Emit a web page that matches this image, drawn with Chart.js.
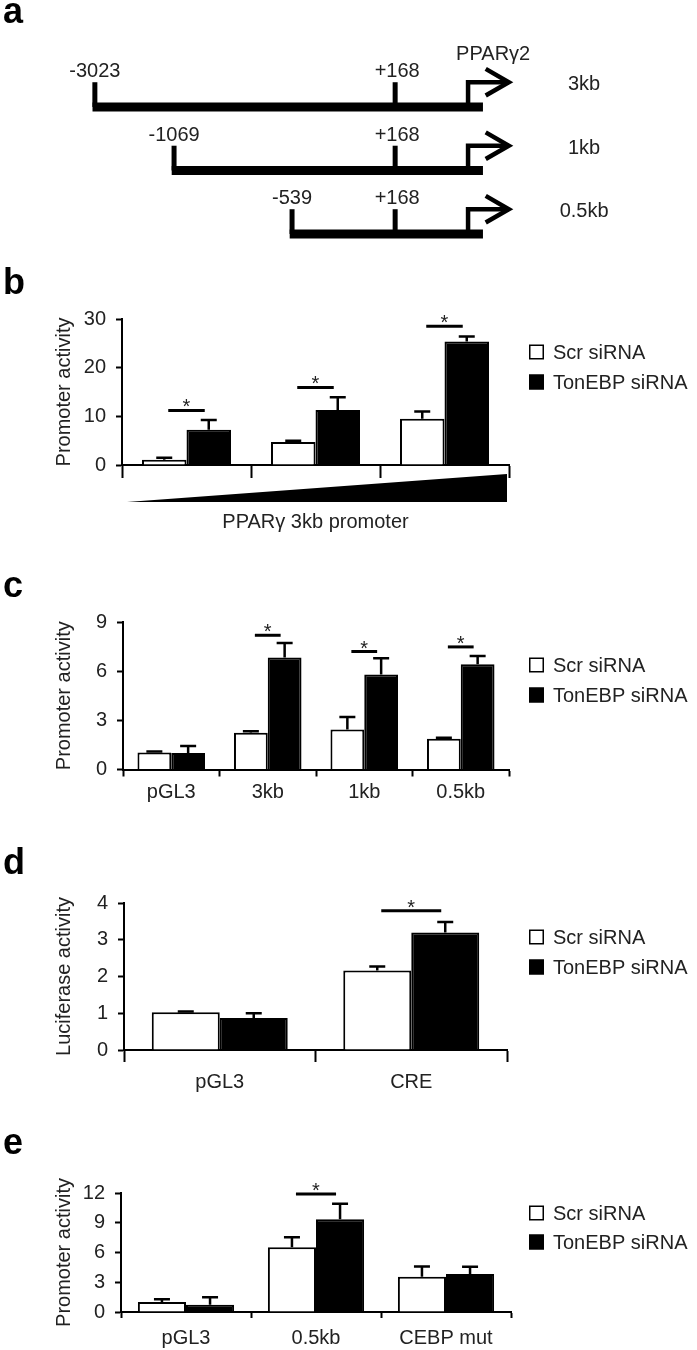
<!DOCTYPE html>
<html>
<head>
<meta charset="utf-8">
<script src="https://cdn.jsdelivr.net/npm/chart.js@4.4.0/dist/chart.umd.min.js"></script>
<style>
body { margin: 0; background: #fff; }
#page { position: relative; width: 697px; height: 1350px; overflow: hidden; }
.panel { position: absolute; left: 0; }
.letter { position: absolute; left: 3px; font: bold 36px 'Liberation Sans', Arial, sans-serif; line-height: 36px; color: #000; }
</style>
</head>
<body>
<div id="page">
  <div class="panel" style="top:0px"><canvas id="chartA" width="697" height="260"></canvas></div>
  <div class="panel" style="top:290px"><canvas id="chartB" width="697" height="250"></canvas></div>
  <div class="panel" style="top:600px"><canvas id="chartC" width="697" height="210"></canvas></div>
  <div class="panel" style="top:880px"><canvas id="chartD" width="697" height="220"></canvas></div>
  <div class="panel" style="top:1170px"><canvas id="chartE" width="697" height="180"></canvas></div>
  <div class="letter" style="top:-7px">a</div>
  <div class="letter" style="top:264px">b</div>
  <div class="letter" style="top:567px">c</div>
  <div class="letter" style="top:844px">d</div>
  <div class="letter" style="top:1124px">e</div>
</div>
<script>
// panel a - promoter constructs (schematic units, not to scale)
var constructNames = ['3kb', '1kb', '0.5kb']
var startLabels = ['-3023', '-1069', '-539']
var startPos = [1, 21.2, 51.3]
var siteLabel = '+168'
var sitePos = 77.6
var tssPos = 96.2
var endPos = 100
var geneLabel = 'PPARγ2'

var seriesNames = ['Scr siRNA', 'TonEBP siRNA']

// panel b
var bLabels = ['1', '2', '3']
var bScr = [1.1, 4.75, 9.5]
var bScrErr = [0.4, 0.25, 1.5]
var bTon = [7.26, 11.3, 25.4]
var bTonErr = [2.0, 2.6, 1.0]
var bSig = [11.2, 15.95, 28.5]

// panel c
var cLabels = ['pGL3', '3kb', '1kb', '0.5kb']
var cScr = [1.04, 2.24, 2.44, 1.87]
var cScrErr = [0.06, 0.1, 0.77, 0.06]
var cTon = [1.0, 6.83, 5.79, 6.42]
var cTonErr = [0.44, 0.89, 1.0, 0.51]
var cSig = [null, 8.19, 7.2, 7.48]

// panel d
var dLabels = ['pGL3', 'CRE']
var dScr = [1.03, 2.16]
var dScrErr = [0.02, 0.11]
var dTon = [0.87, 3.2]
var dTonErr = [0.13, 0.28]
var dSig = [null, 3.79]

// panel e
var eLabels = ['pGL3', '0.5kb', 'CEBP mut']
var eScr = [1.01, 6.52, 3.55]
var eScrErr = [0.27, 1.02, 1.05]
var eTon = [0.74, 9.36, 3.82]
var eTonErr = [0.75, 1.56, 0.74]
var eSig = [null, 11.9, null]

var FONT = "'Liberation Sans', Arial, sans-serif"
var TXT = '#222'
Chart.defaults.font.family = FONT
Chart.defaults.color = TXT

function seg(points, width) {
    return { data: points, showLine: true, borderColor: '#000', borderWidth: width,
             pointRadius: 0, fill: false, borderCapStyle: 'butt', borderJoinStyle: 'miter' }
}

var armH = 0.39   // tick / arrow height in row units
var tipX = 106.6
var aDatasets = []
for (var r = 0; r < constructNames.length; r++) {
    aDatasets.push(seg([{x: startPos[r] - 0.6, y: r}, {x: endPos, y: r}], 9))
    aDatasets.push(seg([{x: startPos[r], y: r}, {x: startPos[r], y: r - armH}], 5))
    aDatasets.push(seg([{x: sitePos, y: r}, {x: sitePos, y: r - armH}], 5))
    aDatasets.push(seg([{x: tssPos, y: r}, {x: tssPos, y: r - armH}, {x: tipX, y: r - armH}], 4.5))
    aDatasets.push(seg([{x: tipX - 5.9, y: r - armH - 0.21}, {x: tipX, y: r - armH}, {x: tipX - 5.9, y: r - armH + 0.21}], 4.5))
}

var schemeText = {
    id: 'schemeText',
    afterDraw: function(chart) {
        var ctx = chart.ctx, xs = chart.scales.x, ys = chart.scales.y
        ctx.save()
        ctx.fillStyle = TXT
        ctx.font = '20px ' + FONT
        ctx.textAlign = 'center'
        for (var r = 0; r < constructNames.length; r++) {
            var top = ys.getPixelForValue(r - armH)
            ctx.textBaseline = 'alphabetic'
            ctx.fillText(startLabels[r], xs.getPixelForValue(startPos[r]), top - 5)
            ctx.fillText(siteLabel, xs.getPixelForValue(sitePos) + 2, top - 5)
            ctx.textBaseline = 'middle'
            ctx.fillText(constructNames[r], xs.getPixelForValue(125.8), ys.getPixelForValue(r) - 22)
        }
        ctx.fillText(geneLabel, xs.getPixelForValue(102.6), ys.getPixelForValue(0) - 52)
        ctx.restore()
    }
}

new Chart(document.getElementById('chartA').getContext('2d'), {
    type: 'scatter',
    data: { datasets: aDatasets },
    options: {
        responsive: false, animation: false,
        layout: { padding: 0 },
        plugins: { legend: { display: false }, tooltip: { enabled: false } },
        scales: {
            x: { type: 'linear', display: false, min: -23.2, max: 154.6 },
            y: { type: 'linear', display: false, min: -1.685, max: 2.41, reverse: true }
        }
    },
    plugins: [schemeText]
})

var errorBars = {
    id: 'errorBars',
    afterDatasetsDraw: function(chart) {
        var ctx = chart.ctx, ys = chart.scales.y
        ctx.save()
        ctx.strokeStyle = '#000'
        ctx.lineWidth = 2.5
        chart.data.datasets.forEach(function(ds, di) {
            chart.getDatasetMeta(di).data.forEach(function(bar, i) {
                var top = ys.getPixelForValue(ds.data[i] + ds.err[i])
                ctx.beginPath()
                ctx.moveTo(bar.x, bar.y)
                ctx.lineTo(bar.x, top)
                ctx.moveTo(bar.x - 8, top)
                ctx.lineTo(bar.x + 8, top)
                ctx.stroke()
            })
        })
        ctx.restore()
    }
}

var sigMarks = {
    id: 'sigMarks',
    afterDatasetsDraw: function(chart, args, opts) {
        var ctx = chart.ctx, ys = chart.scales.y
        var m0 = chart.getDatasetMeta(0), m1 = chart.getDatasetMeta(1)
        ctx.save()
        ctx.strokeStyle = '#000'
        ctx.fillStyle = TXT
        ctx.lineWidth = 3
        ctx.font = '20px ' + FONT
        ctx.textAlign = 'center'
        ctx.textBaseline = 'alphabetic'
        opts.sig.forEach(function(v, i) {
            if (v == null) return
            var x1 = m0.data[i].x + 4, x2 = m1.data[i].x - 4, y = ys.getPixelForValue(v)
            ctx.beginPath()
            ctx.moveTo(x1, y)
            ctx.lineTo(x2, y)
            ctx.stroke()
            ctx.fillText('*', (x1 + x2) / 2, y + 3)
        })
        ctx.restore()
    }
}

var sideLegend = {
    id: 'sideLegend',
    afterDraw: function(chart, args, opts) {
        var ctx = chart.ctx
        ctx.save()
        ctx.font = '20px ' + FONT
        ctx.textBaseline = 'middle'
        chart.data.datasets.forEach(function(ds, i) {
            var y = opts.y[i]
            ctx.fillStyle = ds.backgroundColor
            ctx.fillRect(529, y - 7.5, 15, 15)
            ctx.strokeStyle = '#000'
            ctx.lineWidth = 1.5
            ctx.strokeRect(529.75, y - 6.75, 13.5, 13.5)
            ctx.fillStyle = TXT
            ctx.fillText(ds.label, 553, y + 1)
        })
        ctx.restore()
    }
}

var ramp = {
    id: 'ramp',
    afterDraw: function(chart, args, opts) {
        if (!opts.show) return
        var ctx = chart.ctx, xs = chart.scales.x, b = chart.chartArea.bottom
        ctx.save()
        ctx.fillStyle = '#000'
        ctx.beginPath()
        ctx.moveTo(xs.left + 5, b + 37)
        ctx.lineTo(xs.right - 2, b + 9)
        ctx.lineTo(xs.right - 2, b + 37)
        ctx.closePath()
        ctx.fill()
        ctx.restore()
    }
}

function barChart(id, labels, scr, scrErr, ton, tonErr, sig, o) {
    var ctx = document.getElementById(id).getContext('2d')
    return new Chart(ctx, {
        type: 'bar',
        data: {
            labels: labels,
            datasets: [
                { label: seriesNames[0], data: scr, err: scrErr, backgroundColor: '#fff', borderColor: '#000', borderWidth: 2 },
                { label: seriesNames[1], data: ton, err: tonErr, backgroundColor: '#000', borderColor: '#000', borderWidth: 2 }
            ]
        },
        options: {
            responsive: false, animation: false,
            layout: { padding: { top: o.top, right: o.right, left: 0, bottom: 0 } },
            datasets: { bar: { categoryPercentage: o.cat, barPercentage: 1 } },
            plugins: {
                legend: { display: false }, tooltip: { enabled: false },
                sigMarks: { sig: sig }, sideLegend: { y: o.legendY }, ramp: { show: !!o.ramp }
            },
            scales: {
                x: {
                    offset: true,
                    grid: { offset: true, drawOnChartArea: false, drawTicks: true, tickLength: o.xTick, tickColor: '#000', tickWidth: 2 },
                    border: { display: true, color: '#000', width: 2 },
                    ticks: { display: !o.xTitle, font: { size: 20 }, color: TXT, padding: o.xPad, maxRotation: 0, autoSkip: false },
                    title: { display: !!o.xTitle, text: o.xTitle || '', font: { size: 20 }, color: TXT, padding: { top: 0, bottom: 6 } },
                    afterFit: function(s) { s.height = o.xh }
                },
                y: {
                    min: 0, max: o.max,
                    grid: { drawOnChartArea: false, drawTicks: true, tickLength: 6, tickColor: '#000', tickWidth: 2 },
                    border: { display: true, color: '#000', width: 2 },
                    ticks: { stepSize: o.step, font: { size: 20 }, color: TXT, padding: 10 },
                    title: { display: true, text: o.yTitle, font: { size: 20 }, color: TXT, padding: { top: 52, bottom: 0 } },
                    afterFit: function(s) { s.width = o.left }
                }
            }
        },
        plugins: [errorBars, sigMarks, sideLegend, ramp]
    })
}

barChart('chartB', bLabels, bScr, bScrErr, bTon, bTonErr, bSig,
    { top: 29, right: 188, left: 122, xh: 75, xTick: 13, xPad: 4, cat: 0.69, max: 30, step: 10,
      yTitle: 'Promoter activity', xTitle: 'PPARγ 3kb promoter', legendY: [62, 92], ramp: true })
barChart('chartC', cLabels, cScr, cScrErr, cTon, cTonErr, cSig,
    { top: 21, right: 188, left: 123, xh: 40.5, xTick: 7, xPad: 4, cat: 0.70, max: 9, step: 3,
      yTitle: 'Promoter activity', legendY: [65, 95] })
barChart('chartD', dLabels, dScr, dScrErr, dTon, dTonErr, dSig,
    { top: 23, right: 190, left: 124, xh: 50, xTick: 12, xPad: 8, cat: 0.71, max: 4, step: 1,
      yTitle: 'Luciferase activity', legendY: [57, 87] })
barChart('chartE', eLabels, eScr, eScrErr, eTon, eTonErr, eSig,
    { top: 23, right: 186, left: 121, xh: 38, xTick: 6, xPad: 8, cat: 0.74, max: 12, step: 3,
      yTitle: 'Promoter activity', legendY: [43, 72] })
</script>
</body>
</html>
